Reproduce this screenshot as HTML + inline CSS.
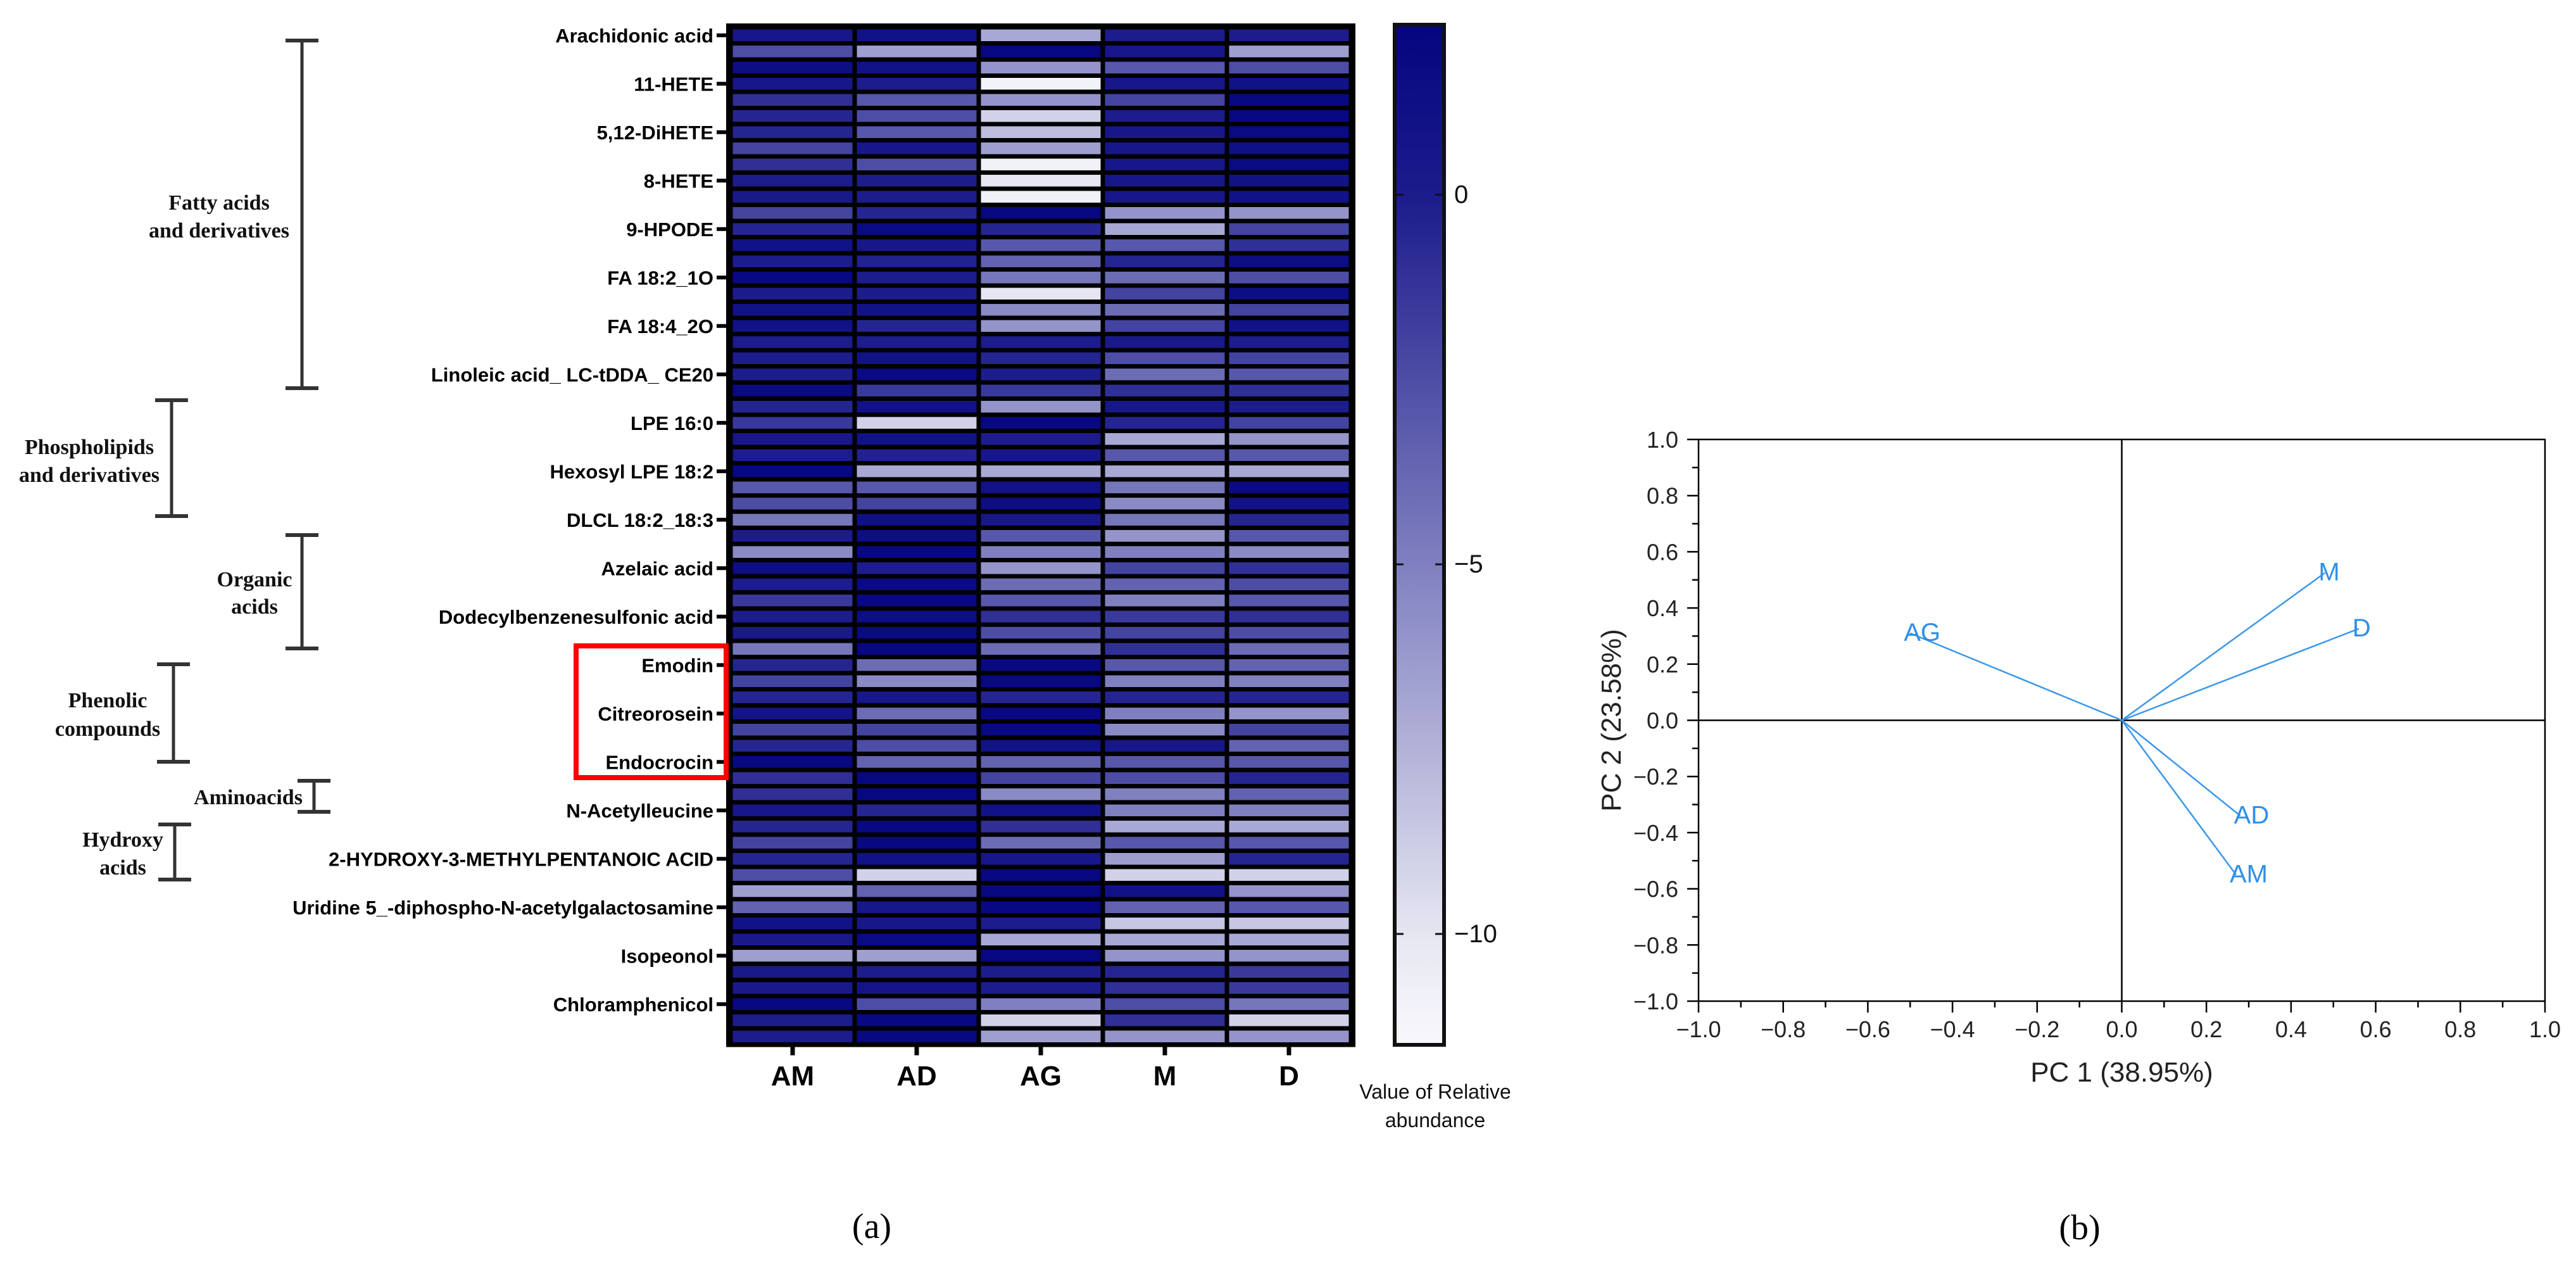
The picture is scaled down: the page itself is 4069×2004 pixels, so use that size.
<!DOCTYPE html>
<html>
<head>
<meta charset="utf-8">
<style>
html,body{margin:0;padding:0;background:#fff;}
svg{display:block;}
text{font-family:"Liberation Sans",Arial,sans-serif;}
.serif{font-family:"Liberation Serif","Times New Roman",serif;}
</style>
</head>
<body>
<svg id="fig" xmlns="http://www.w3.org/2000/svg" width="4069" height="2004" viewBox="0 0 4069 2004">
  <rect x="0" y="0" width="4069" height="2004" fill="#fff"/>
  <g id="heatmap"></g>
  <g id="groups"></g>
  <g id="colorbar"></g>
  <g id="pca"></g>
  <text class="serif" x="1377" y="1955" font-size="56" text-anchor="middle">(a)</text>
  <text class="serif" x="3285" y="1957" font-size="56" text-anchor="middle">(b)</text>
</svg>
<script>
const columns = ["AM","AD","AG","M","D"];
const rowLabels = ["Arachidonic acid","11-HETE","5,12-DiHETE","8-HETE","9-HPODE","FA 18:2_1O","FA 18:4_2O","Linoleic acid_ LC-tDDA_ CE20","LPE 16:0","Hexosyl LPE 18:2","DLCL 18:2_18:3","Azelaic acid","Dodecylbenzenesulfonic acid","Emodin","Citreorosein","Endocrocin","N-Acetylleucine","2-HYDROXY-3-METHYLPENTANOIC ACID","Uridine 5_-diphospho-N-acetylgalactosamine","Isopeonol","Chloramphenicol"];
const heatValues = [
[0.5,1,-7,0,0],[-2.5,-6.5,2,0.5,-6.5],[1.5,1,-6,-3,-2.5],[0.5,0,-11,0.5,1],[-1,-3,-6,-2,2],
[-0.5,-2.5,-9,0,2],[-0.5,-3,-8,0.5,1.8],[-2,0.5,-6.5,0.5,1.2],[-1,-2.5,-10.8,0.5,1.8],[0,0,-10,0.5,1],
[0.3,0,-10.8,0.5,1],[-2,-0.5,2,-6,-6],[-0.5,1.8,-0.5,-7,-2],[1,0.5,-3,-3,-1],[0,-0.3,-3.5,-0.5,1.5],
[2,0,-4.5,-4,-2.5],[0,0,-10,-2,1.5],[1,1,-5.5,-4,-2],[1,-0.5,-6,-2,1],[0,0,0,0.3,0],
[0,1,-0.5,-2.5,-2],[0,1.8,0,-4,-3],[1.8,-1.5,-1.5,-1,-1],[-0.5,1,-6,0.5,0],[-1.5,-9,2,-0.5,-2],
[0.5,1,0,-7,-6],[0,-0.3,0.5,-3,-3],[2,-7,-7,-7,-7],[-3,-3,1,-4.5,1.8],[-2.5,-2,1.5,-5.5,1],
[-4.5,1.2,0.5,-4.5,-0.5],[0,1.5,-3,-6,-3],[-5.5,2,-5,-5,-5.5],[1.5,0,-6,-2,-1],[0,1.8,-4,-3.5,-2.5],
[-1.5,2,-3,-5,-3],[0,1.5,-1,-1.5,-1],[0.3,1.8,-2.5,-2,-2.5],[-4.5,2,-4,-1,-4],[-0.5,-4,2,-3,-3.5],
[-2,-5.5,2,-5,-5],[-0.5,0.5,-0.5,-0.5,-0.5],[0.8,-4,2,-5,-6],[-2,-2,2,-5.5,-2],[-0.5,-2.5,1,0.5,-3.5],
[2,-3.5,-3.5,-3,-3],[-1,2,-2,-2.5,-0.5],[-1,2,-5.5,-5,-3.5],[0.5,-0.5,1,-5,-5],[-0.5,2,-1,-7,-7],
[-2,2,-4,-3,-3],[-0.5,1,0.5,-6.5,-0.5],[-2.5,-9,2,-9,-9],[-6.5,-3.5,2,1,-6],[-3.5,0.5,2,-3.5,-3],
[1,0.5,0,-8.5,-8.5],[0.3,1.8,-7,-7,-7],[-6.5,-6.5,2,-6,-6],[0.3,0,0,-0.5,-1.5],[0.3,0.8,0,-1,-1.5],
[2,-2.5,-5,-2.5,-4.5],[0,2,-9,-1,-9],[0,2,-6.5,-6,-6]
];
const colorbarTicks = [0,-5,-10];
const colorbarTickLabels = ["0","\u22125","\u221210"];
const pcaNames = ["AG","M","D","AD","AM"];
const pcaPC1 = [-0.50,0.48,0.56,0.28,0.27];
const pcaPC2 = [0.31,0.525,0.326,-0.34,-0.55];
const pcaTicks = [-1,-0.8,-0.6,-0.4,-0.2,0,0.2,0.4,0.6,0.8,1];
const pcaTickLabels = ["\u22121.0","\u22120.8","\u22120.6","\u22120.4","\u22120.2","0.0","0.2","0.4","0.6","0.8","1.0"];

const NS="http://www.w3.org/2000/svg";
function mk(tag, attrs, parent){const e=document.createElementNS(NS,tag);for(const k in attrs)e.setAttribute(k,attrs[k]);parent.appendChild(e);return e;}

const VMAX=2.3, VMIN=-11.5;
const stops=[[0,[5,5,128]],[0.17,[28,28,140]],[0.53,[128,128,192]],[0.9,[232,232,243]],[1,[248,248,252]]];
function color(v){
  let t=(VMAX-v)/(VMAX-VMIN); t=Math.max(0,Math.min(1,t));
  for(let i=1;i<stops.length;i++){ if(t<=stops[i][0]){const a=stops[i-1],b=stops[i];const f=(t-a[0])/(b[0]-a[0]);
    const c=a[1].map((x,j)=>Math.round(x+(b[1][j]-x)*f));return `rgb(${c[0]},${c[1]},${c[2]})`;}}
  return "rgb(248,248,252)";
}

// ---------- heatmap ----------
const hm=document.getElementById('heatmap');
const X0=1154, COLW=196, Y0=43, ROWH=25.5;
const nRows=heatValues.length;
const yBottom=Y0+nRows*ROWH;
const frame=mk('rect',{x:X0-7,y:Y0-6,width:COLW*5+14,height:nRows*ROWH+10,fill:'#000'},hm);


heatValues.forEach((row,r)=>{
  row.forEach((v,c)=>{
    const cell=mk('rect',{x:X0+c*COLW+3.5,y:Y0+r*ROWH+3.5,width:COLW-7,height:ROWH-7,fill:color(v)},hm);
    
    
  });
});
rowLabels.forEach((lab,i)=>{
  const y=Y0+(i*3+0.5)*ROWH;
  const tk=mk('line',{x1:1132,x2:1148,y1:y,y2:y,stroke:'#000','stroke-width':6},hm);
  
  
  const t=mk('text',{x:1127,y:y+11,'font-size':31,'font-weight':'bold','text-anchor':'end',fill:'#000'},hm);
  t.textContent=lab;
  
  
});
columns.forEach((c,i)=>{
  const x=X0+(i+0.5)*COLW;
  const tk=mk('line',{x1:x,x2:x,y1:yBottom,y2:yBottom+17,stroke:'#000','stroke-width':7},hm);
  
  
  const t=mk('text',{x:x,y:1714,'font-size':44,'font-weight':'bold','text-anchor':'middle',fill:'#000'},hm);
  t.textContent=c;
  
  
});
const rb=mk('rect',{x:910,y:1020,width:237,height:208,fill:'none',stroke:'#f00','stroke-width':8},hm);



// ---------- group brackets ----------
const gp=document.getElementById('groups');
const brackets=[
 {x:477,y1:64,y2:613,lines:["Fatty acids","and derivatives"],tx:346,ty:[331,375],name:'fatty-acids'},
 {x:271,y1:632,y2:815,lines:["Phospholipids","and derivatives"],tx:141,ty:[717,761],name:'phospholipids'},
 {x:477,y1:845,y2:1024,lines:["Organic","acids"],tx:402,ty:[926,969],name:'organic-acids'},
 {x:274,y1:1049,y2:1203,lines:["Phenolic","compounds"],tx:170,ty:[1117,1162],name:'phenolic-compounds'},
 {x:496,y1:1233,y2:1282,lines:["Aminoacids"],tx:392,ty:[1270],name:'aminoacids'},
 {x:276,y1:1302,y2:1389,lines:["Hydroxy","acids"],tx:194,ty:[1337,1381],name:'hydroxy-acids'}
];
brackets.forEach(b=>{
  const g=mk('g',{},gp);
  
  
  mk('line',{x1:b.x,x2:b.x,y1:b.y1,y2:b.y2,stroke:'#333','stroke-width':5},g);
  mk('line',{x1:b.x-26,x2:b.x+26,y1:b.y1,y2:b.y1,stroke:'#333','stroke-width':6},g);
  mk('line',{x1:b.x-26,x2:b.x+26,y1:b.y2,y2:b.y2,stroke:'#333','stroke-width':6},g);
  b.lines.forEach((ln,i)=>{
    const t=mk('text',{x:b.tx,y:b.ty[i],'font-size':34,'font-weight':'bold','text-anchor':'middle',fill:'#111','class':'serif'},g);
    t.textContent=ln;
    
    
  });
});

// ---------- colorbar ----------
const cb=document.getElementById('colorbar');
const defs=mk('defs',{},cb);
const grad=mk('linearGradient',{id:'cbgrad',x1:0,y1:0,x2:0,y2:1},defs);
stops.forEach(s=>mk('stop',{offset:s[0],'stop-color':`rgb(${s[1].join(',')})`},grad));
const CBT=39, CBB=1650, CBL=2203, CBR=2281;
function cbY(v){return CBT+(VMAX-v)/(VMAX-VMIN)*(CBB-CBT);}
const cbr=mk('rect',{x:CBL,y:CBT,width:CBR-CBL,height:CBB-CBT,fill:'url(#cbgrad)',stroke:'#111','stroke-width':6},cb);


colorbarTicks.forEach((v,i)=>{
  const y=cbY(v);
  mk('line',{x1:CBL,x2:CBL+14,y1:y,y2:y,stroke:'#111','stroke-width':3},cb);
  mk('line',{x1:CBR-14,x2:CBR,y1:y,y2:y,stroke:'#111','stroke-width':3},cb);
  const t=mk('text',{x:2297,y:y+13,'font-size':40,fill:'#111'},cb);
  t.textContent=colorbarTickLabels[i];
  
  
});
const ct1=mk('text',{x:2267,y:1735,'font-size':32,'text-anchor':'middle',fill:'#111'},cb);
ct1.textContent="Value of Relative";


const ct2=mk('text',{x:2267,y:1780,'font-size':32,'text-anchor':'middle',fill:'#111'},cb);
ct2.textContent="abundance";



// ---------- PCA ----------
const pc=document.getElementById('pca');
const PL=2683, PR=4020, PT=694, PB=1581;
function px(v){return PL+(v+1)/2*(PR-PL);}
function py(v){return PB-(v+1)/2*(PB-PT);}
const box=mk('rect',{x:PL,y:PT,width:PR-PL,height:PB-PT,fill:'none',stroke:'#000','stroke-width':2.5},pc);


mk('line',{x1:px(0),x2:px(0),y1:PT,y2:PB,stroke:'#000','stroke-width':2.5},pc);
mk('line',{x1:PL,x2:PR,y1:py(0),y2:py(0),stroke:'#000','stroke-width':2.5},pc);
for(let i=0;i<=20;i++){
  const v=-1+i*0.1, major=(i%2===0), len=major?18:10;
  mk('line',{x1:PL-len,x2:PL,y1:py(v),y2:py(v),stroke:'#000','stroke-width':2.5},pc);
  mk('line',{x1:px(v),x2:px(v),y1:PB,y2:PB+len,stroke:'#000','stroke-width':2.5},pc);
}
pcaTicks.forEach((v,i)=>{
  const ty=mk('text',{x:2651,y:py(v)+13,'font-size':36,'text-anchor':'end',fill:'#222'},pc);
  ty.textContent=pcaTickLabels[i];
  
  
  const tx=mk('text',{x:px(v),y:PB+57,'font-size':36,'text-anchor':'middle',fill:'#222'},pc);
  tx.textContent=pcaTickLabels[i];
  
  
});
const xt=mk('text',{x:px(0),y:1708,'font-size':44,'text-anchor':'middle',fill:'#222'},pc);
xt.textContent="PC 1 (38.95%)";


const yt=mk('text',{x:0,y:0,'font-size':44,'text-anchor':'middle',fill:'#222',transform:`translate(2560,${py(0)}) rotate(-90)`},pc);
yt.textContent="PC 2 (23.58%)";


pcaNames.forEach((n,i)=>{
  const x=px(pcaPC1[i]), y=py(pcaPC2[i]);
  const l=mk('line',{x1:px(0),y1:py(0),x2:x,y2:y,stroke:'#3a97e8','stroke-width':2.5},pc);
  
  
  const t=mk('text',{x:x-10,y:y+12,'font-size':40,fill:'#2f8fe8'},pc);
  t.textContent=n;
  
  
});
</script>
</body>
</html>
